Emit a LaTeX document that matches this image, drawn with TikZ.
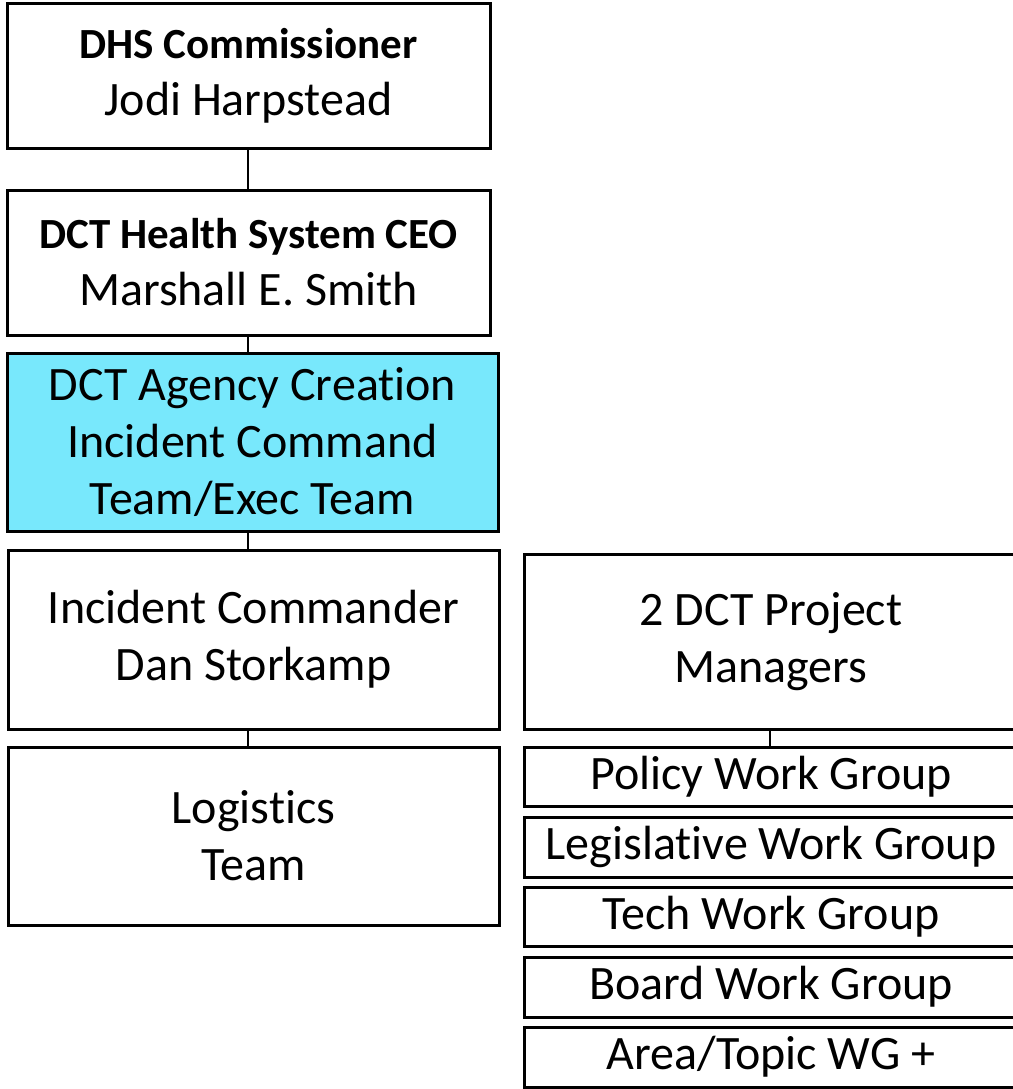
\documentclass[tikz,border=0pt]{standalone}
\usepackage{fontspec}
\setmainfont[RawFeature={-liga;-clig;-dlig;-calt}]{Carlito}
\definecolor{cyanfill}{HTML}{78E8FC}
\tikzset{
  box/.style={draw=black, line width=3pt, fill=white, rectangle, inner sep=0pt, align=center,
    font=\fontsize{48}{57}\selectfont},
  conn/.style={draw=black, line width=2.5pt},
}
\newcommand{\bt}[1]{{\fontsize{43}{56}\selectfont\bfseries #1}}
\begin{document}
\begin{tikzpicture}[x=1pt,y=-1pt]
\useasboundingbox (0,0) rectangle (1012,1089);
\node[box, minimum width=483pt, minimum height=144pt] (b1) at (248.5,76) {\bt{DHS Commissioner}\\Jodi Harpstead};
\node[box, minimum width=483pt, minimum height=145pt] (b2) at (248.5,262.5) {\bt{DCT Health System CEO}\\Marshall E. Smith};
\node[box, fill=cyanfill, minimum width=491pt, minimum height=178pt] (b3) at (252.5,442) {DCT Agency Creation\\Incident Command\\Team/Exec Team};
\node[box, minimum width=491pt, minimum height=179pt] (b4) at (253.5,639.5) {Incident Commander\\Dan Storkamp};
\node[box, minimum width=491pt, minimum height=178pt] (b5) at (253.5,836) {Logistics\\Team};
\node[box, minimum width=494pt, minimum height=175pt] (pm) at (771,641.5) {2 DCT Project\\Managers};
\node[box, minimum width=494pt, minimum height=59pt] (w1) at (771,776.5) {Policy Work Group};
\node[box, minimum width=494pt, minimum height=60pt] (w2) at (771,847) {Legislative Work Group};
\node[box, minimum width=494pt, minimum height=59pt] (w3) at (771,916.5) {Tech Work Group};
\node[box, minimum width=494pt, minimum height=60pt] (w4) at (771,987) {Board Work Group};
\node[box, minimum width=494pt, minimum height=60pt] (w5) at (771,1057) {Area/Topic WG +};
\coordinate (c1) at (248,0);
\draw[conn] (b1.south -| c1) -- (b2.north -| c1);
\draw[conn] (b2.south -| c1) -- (b3.north -| c1);
\draw[conn] (b3.south -| c1) -- (b4.north -| c1);
\draw[conn] (b4.south -| c1) -- (b5.north -| c1);
\coordinate (c2) at (770,0);
\draw[conn] (pm.south -| c2) -- (w1.north -| c2);
\end{tikzpicture}
\end{document}
